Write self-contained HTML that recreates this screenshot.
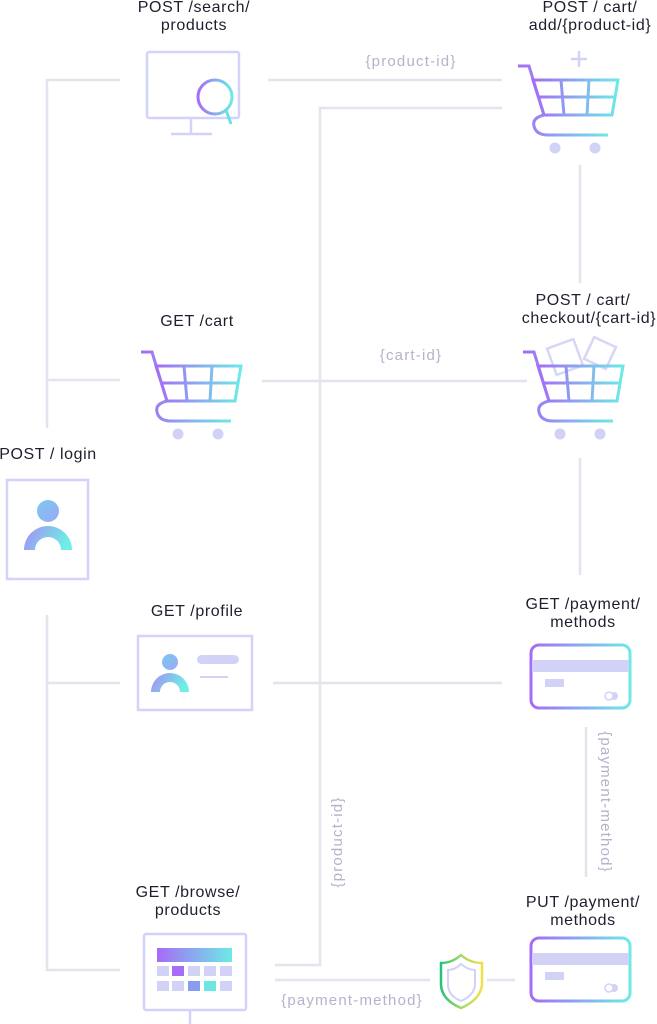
<!DOCTYPE html>
<html><head><meta charset="utf-8"><style>
html,body{margin:0;padding:0;background:#fff;}
svg{display:block;}
.t{font-family:"Liberation Sans",sans-serif;font-size:16px;letter-spacing:0.6px;fill:#231c2e;text-anchor:middle;}
.l{font-family:"Liberation Sans",sans-serif;font-size:15px;letter-spacing:1.2px;fill:#b3b3cc;text-anchor:middle;}
.ln{stroke:#e4e4ee;stroke-width:2.5;fill:none;}
.ic{stroke:#d2d2fa;stroke-width:2.5;fill:none;}
</style></head><body>
<svg width="657" height="1024" viewBox="0 0 657 1024" xmlns="http://www.w3.org/2000/svg">
<defs>
<linearGradient id="g" x1="0" y1="0" x2="1" y2="0"><stop offset="0" stop-color="#a66bf7"/><stop offset="1" stop-color="#6ceae6"/></linearGradient>
<linearGradient id="gp" x1="0" y1="0" x2="1" y2="0.3"><stop offset="0" stop-color="#a78bf5"/><stop offset="1" stop-color="#6eeee6"/></linearGradient>
<linearGradient id="gh" x1="0" y1="0" x2="1" y2="1"><stop offset="0" stop-color="#7cc8f0"/><stop offset="1" stop-color="#9aa9f4"/></linearGradient>
<linearGradient id="gs" x1="0" y1="0" x2="1" y2="0"><stop offset="0" stop-color="#25c27a"/><stop offset="0.5" stop-color="#a6d96a"/><stop offset="1" stop-color="#f0e04a"/></linearGradient>
<g id="cart">
<path d="M0 0 H11 L26 49 Q14 52 16 60 Q18 69 30 69 H90" stroke="url(#g)" stroke-width="3" fill="none"/>
<path d="M15 14 H100 L94 49 H26 Z M20 31 H97 M43 14 L46 49 M71 14 L69 49" stroke="url(#g)" stroke-width="3" fill="none"/>
<circle cx="37" cy="82" r="5.5" fill="#d2d2f6"/><circle cx="77" cy="82" r="5.5" fill="#d2d2f6"/>
</g>
</defs>

<path class="ln" d="M120 80 H47 V428 M47 380 H120"/>
<path class="ln" d="M47 615 V970 H120 M47 683 H120"/>
<path class="ln" d="M268 80 H502"/>
<path class="ln" d="M502 108 H320 V965 H275"/>
<path class="ln" d="M262 381 H527"/>
<path class="ln" d="M273 683 H502"/>
<path class="ln" d="M580 165 V283 M580 458 V575 M586 727 V877"/>
<path class="ln" d="M275 980 H430 M487 980 H515"/>

<text class="t" x="194" y="12">POST /search/</text>
<text class="t" x="194" y="30">products</text>
<text class="t" x="590" y="12">POST / cart/</text>
<text class="t" x="590" y="30">add/{product-id}</text>
<text class="t" x="197" y="326">GET /cart</text>
<text class="t" x="583" y="305">POST / cart/</text>
<text class="t" x="589" y="323">checkout/{cart-id}</text>
<text class="t" x="48" y="459">POST / login</text>
<text class="t" x="197" y="616">GET /profile</text>
<text class="t" x="583" y="609">GET /payment/</text>
<text class="t" x="583" y="627">methods</text>
<text class="t" x="188" y="897">GET /browse/</text>
<text class="t" x="188" y="915">products</text>
<text class="t" x="583" y="907">PUT /payment/</text>
<text class="t" x="583" y="925">methods</text>

<text class="l" x="411" y="66">{product-id}</text>
<text class="l" x="411" y="360">{cart-id}</text>
<text class="l" x="352" y="1005">{payment-method}</text>
<text class="l" transform="translate(342 842) rotate(-90)">{product-id}</text>
<text class="l" transform="translate(601 802) rotate(90)">{payment-method}</text>

<rect class="ic" x="147" y="52" width="92" height="66" rx="2"/>
<path class="ic" d="M191 118 V134 M171 134 H212"/>
<circle cx="215" cy="97" r="17" stroke="url(#g)" stroke-width="3" fill="#fff"/>
<path d="M226 110 L231 124" stroke="#6ce0e6" stroke-width="3"/>

<use href="#cart" x="518" y="66"/>
<path d="M579 51 V67 M571 59 H587" stroke="#d2d2f6" stroke-width="2.5"/>

<use href="#cart" x="141" y="352"/>

<g stroke="#d2d2f6" stroke-width="2.5" fill="none" opacity="0.9">
<rect x="551" y="343" width="28" height="28" transform="rotate(-20 565 357)"/>
<rect x="588" y="341" width="24" height="24" transform="rotate(25 600 353)"/>
</g>
<use href="#cart" x="523" y="352"/>

<rect class="ic" x="7" y="480" width="81" height="99"/>
<circle cx="48" cy="511" r="11" fill="url(#gh)"/>
<path d="M24 550 A24 24 0 0 1 72 550 H61 A13 13 0 0 0 35 550 Z" fill="url(#gp)"/>

<rect class="ic" x="138" y="636" width="114" height="74"/>
<circle cx="170" cy="662" r="8" fill="url(#gh)"/>
<path d="M151 692 A19 19 0 0 1 189 692 H180 A10 10 0 0 0 160 692 Z" fill="url(#gp)"/>
<rect x="197" y="655" width="42" height="9" rx="4.5" fill="#d2d2f6"/>
<path d="M200 677 H228" stroke="#d2d2f6" stroke-width="2"/>

<rect x="531" y="645" width="99" height="63" rx="8" stroke="url(#g)" stroke-width="3" fill="#fff"/>
<rect x="532" y="660" width="97" height="12" fill="#d2d2f6"/>
<rect x="545" y="679" width="19" height="8" fill="#d2d2f6"/>
<circle cx="614" cy="696" r="4" fill="#d2d2f6"/><circle cx="609" cy="696" r="4" stroke="#d2d2f6" stroke-width="1.5" fill="#fff"/>

<rect x="531" y="938" width="99" height="63" rx="8" stroke="url(#g)" stroke-width="3" fill="#fff"/>
<rect x="532" y="953" width="97" height="12" fill="#d2d2f6"/>
<rect x="545" y="972" width="19" height="8" fill="#d2d2f6"/>
<circle cx="614" cy="988" r="4" fill="#d2d2f6"/><circle cx="609" cy="988" r="4" stroke="#d2d2f6" stroke-width="1.5" fill="#fff"/>

<rect class="ic" x="144" y="934" width="102" height="76" rx="2"/>
<path class="ic" d="M190 1010 V1024"/>
<rect x="157" y="948" width="75" height="14" fill="url(#g)"/>
<g fill="#d2d2f6">
<rect x="157" y="966" width="12" height="10"/><rect x="172" y="966" width="12" height="10" fill="#a66bf7"/><rect x="188" y="966" width="12" height="10"/><rect x="204" y="966" width="12" height="10"/><rect x="220" y="966" width="12" height="10"/>
<rect x="157" y="981" width="12" height="10"/><rect x="172" y="981" width="12" height="10"/><rect x="188" y="981" width="12" height="10" fill="#8a9cf2"/><rect x="204" y="981" width="12" height="10" fill="#6ce6e2"/><rect x="220" y="981" width="12" height="10"/>
</g>

<path d="M461 955 Q470 963 482 963 V985 Q480 1000 461 1008 Q442 1000 441 985 V963 Q452 963 461 955 Z" stroke="url(#gs)" stroke-width="2.5" fill="#fff"/>
<path d="M461 964 Q468 970 475 970 V986 Q473 996 461 1001 Q449 996 448 986 V970 Q455 970 461 964 Z" stroke="#d2d2f8" stroke-width="2" fill="none"/>
</svg>
</body></html>
